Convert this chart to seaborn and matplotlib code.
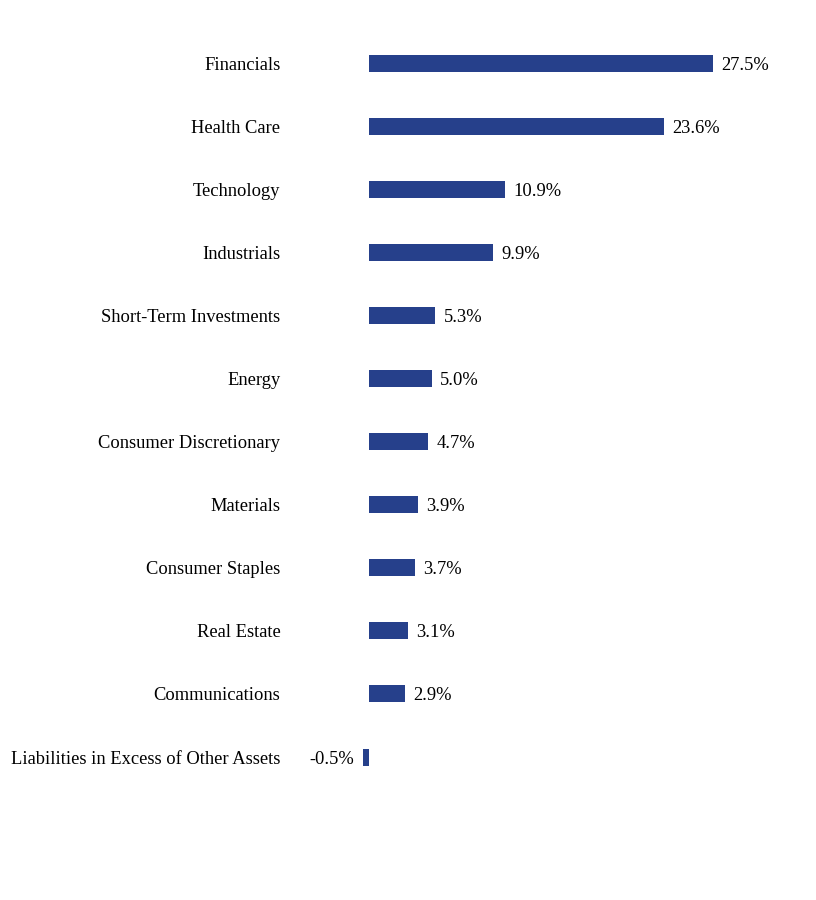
import matplotlib
matplotlib.use('Agg')
import matplotlib.pyplot as plt
import pandas as pd
import seaborn as sns

sectors = ['Financials', 'Health Care', 'Technology', 'Industrials',
           'Short-Term Investments', 'Energy', 'Consumer Discretionary',
           'Materials', 'Consumer Staples', 'Real Estate', 'Communications',
           'Liabilities in Excess of Other Assets']
weights = [27.5, 23.6, 10.9, 9.9, 5.3, 5.0, 4.7, 3.9, 3.7, 3.1, 2.9, -0.5]

bar_color = '#26408B'

sns.set_theme(style='white')
plt.rcParams['font.family'] = ['Liberation Serif', 'DejaVu Serif']

df = pd.DataFrame({'sector': sectors, 'weight': weights})

fig = plt.figure(figsize=(8.16, 9), dpi=100)
ax = fig.add_axes([290 / 816, 1 - 788.6 / 900, 510 / 816, 757.1 / 900])

sns.barplot(data=df, x='weight', y='sector', orient='h', color=bar_color,
            width=0.27, saturation=1, linewidth=0, ax=ax)

# zero line sits at x=370px, 27.5% ends near x=714px
px_per_unit = (714 - 370) / 27.5
ax.set_xlim((291 - 370) / px_per_unit, (801 - 370) / px_per_unit)
ax.set_ylim(11.5, -0.5)

texts = ax.bar_label(ax.containers[0], labels=[f'{v:.1f}%' for v in weights],
                     padding=6, fontsize=13.3, color='black')
for t in texts:
    t.set_va('center_baseline')

ax.set_xlabel('')
ax.set_ylabel('')
ax.set_xticks([])
ax.tick_params(axis='y', length=0, pad=7, labelsize=13.3, labelcolor='black')
for s in ax.spines.values():
    s.set_visible(False)

fig.savefig('out.png', dpi=100)
